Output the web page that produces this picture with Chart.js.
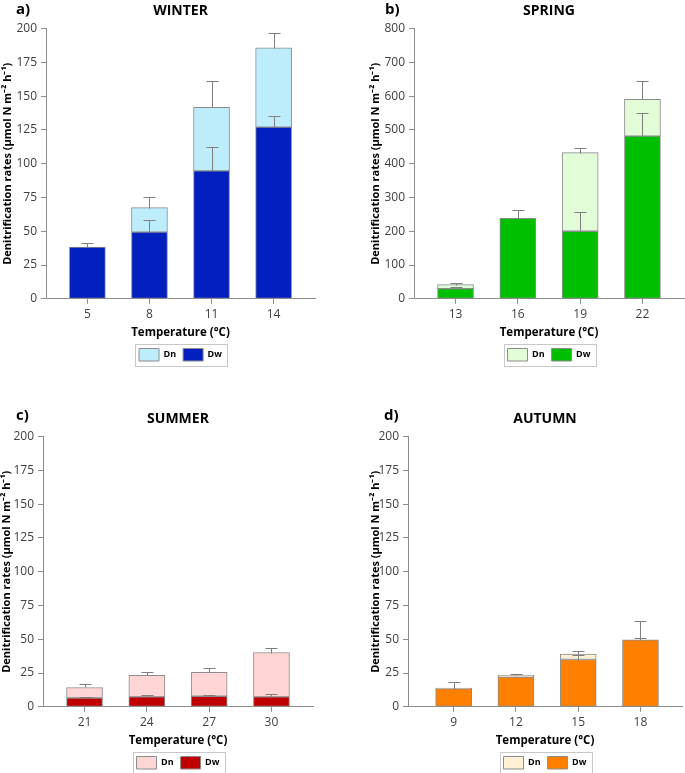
<!DOCTYPE html>
<html>
<head>
<meta charset="utf-8">
<script src="https://cdn.jsdelivr.net/npm/chart.js@4.4.1/dist/chart.umd.min.js"></script>
<style>
  body { margin: 0; background: #fff; }
  #wrap { position: relative; width: 685px; height: 773px; overflow: hidden; }
  .panel { position: absolute; }
  .tag { position: absolute; font: bold 15px 'Open Sans', sans-serif; color: #000; }
</style>
</head>
<body>
<div id="wrap">
  <div class="panel" style="left:0;top:0"><canvas id="winter" width="342" height="371"></canvas></div>
  <div class="panel" style="left:342px;top:0"><canvas id="spring" width="343" height="371"></canvas></div>
  <div class="panel" style="left:0;top:408px"><canvas id="summer" width="342" height="371"></canvas></div>
  <div class="panel" style="left:342px;top:408px"><canvas id="autumn" width="343" height="371"></canvas></div>
  <div class="tag" style="left:16px;top:-2px">a)</div>
  <div class="tag" style="left:385px;top:-2px">b)</div>
  <div class="tag" style="left:16px;top:404px">c)</div>
  <div class="tag" style="left:384px;top:404px">d)</div>
</div>
<script>
// temperatures (°C) and rates (µmol N m-2 h-1)
const winterTemp = [5, 8, 11, 14];
const winterDw = [38.3, 49.4, 94.7, 127.1];
const winterDwErr = [3.2, 8.7, 17.5, 7.9];
const winterDn = [0, 18.1, 47.0, 58.8];
const winterDnErr = [null, 7.9, 19.5, 10.6];

const springTemp = [13, 16, 19, 22];
const springDw = [30, 238, 200, 482];
const springDwErr = [3.5, 24, 58, 69];
const springDn = [12, 0, 233, 109];
const springDnErr = [6, null, 15, 53];

const summerTemp = [21, 24, 27, 30];
const summerDw = [6.5, 7.3, 7.8, 7.3];
const summerDwErr = [1.0, 1.5, 0.8, 2.2];
const summerDn = [7.8, 16.0, 17.7, 32.9];
const summerDnErr = [2.5, 2.5, 3.5, 3.5];

const autumnTemp = [9, 12, 15, 18];
const autumnDw = [13.5, 22, 35, 49.5];
const autumnDwErr = [5.2, null, 3.5, 1.1];
const autumnDn = [0.3, 1.5, 4, 0];
const autumnDnErr = [null, 0.5, 2, 14.3];

Chart.defaults.font.family = "'Open Sans', sans-serif";
const grey = '#8c8c8c';

// error bars drawn from the top of each stacked segment
const errorBars = {
    id: 'errorBars',
    afterDatasetsDraw(chart) {
        const ctx = chart.ctx;
        const yScale = chart.scales.y;
        ctx.save();
        ctx.strokeStyle = '#7f7f7f';
        ctx.lineWidth = 1;
        chart.data.datasets.forEach((ds, i) => {
            const meta = chart.getDatasetMeta(i);
            meta.data.forEach((bar, j) => {
                const err = ds.errors[j];
                if (err == null) return;
                let top = 0;
                for (let k = 0; k <= i; k++) top += chart.data.datasets[k].data[j];
                const y0 = Math.round(yScale.getPixelForValue(top)) + 0.5;
                const y1 = Math.round(yScale.getPixelForValue(top + err)) + 0.5;
                const x = Math.round(bar.x) + 0.5;
                ctx.beginPath();
                ctx.moveTo(x, y0);
                ctx.lineTo(x, y1);
                ctx.moveTo(x - 6, y1);
                ctx.lineTo(x + 6, y1);
                ctx.stroke();
            });
        });
        ctx.restore();
    }
};

// thin frame round the legend
const legendFrame = {
    id: 'legendFrame',
    afterDraw(chart) {
        const boxes = chart.legend.legendHitBoxes;
        if (!boxes || !boxes.length) return;
        const l = Math.min(...boxes.map(b => b.left)) - 4;
        const r = Math.max(...boxes.map(b => b.left + b.width)) + 5;
        const t = Math.min(...boxes.map(b => b.top)) - 5;
        const btm = Math.max(...boxes.map(b => b.top + b.height)) + 4;
        const ctx = chart.ctx;
        ctx.save();
        ctx.strokeStyle = '#c8c8c8';
        ctx.lineWidth = 1;
        ctx.strokeRect(Math.round(l) + 0.5, Math.round(t) + 0.5, Math.round(r - l), Math.round(btm - t));
        ctx.restore();
    }
};

function makePanel(id, title, temps, dw, dwErr, dn, dnErr, dwColor, dnColor, yMax, yStep, xMin, xMax, yWidth, yTitlePad, padRight) {
    new Chart(document.getElementById(id), {
        type: 'bar',
        data: {
            labels: temps,
            datasets: [
                {
                    label: 'Dw',
                    data: dw,
                    errors: dwErr,
                    backgroundColor: dwColor,
                    borderColor: grey,
                    borderWidth: 1,
                    borderSkipped: false
                },
                {
                    label: 'Dn',
                    data: dn,
                    errors: dnErr,
                    backgroundColor: dnColor,
                    borderColor: grey,
                    borderWidth: 1,
                    borderSkipped: false
                }
            ]
        },
        options: {
            responsive: false,
            animation: false,
            barThickness: 36,
            layout: { padding: { left: 0, right: padRight, top: 0, bottom: 0 } },
            plugins: {
                title: {
                    display: true,
                    text: title,
                    fullSize: false,
                    color: '#000',
                    font: { size: 14, weight: 'bold' },
                    padding: { top: 2.6, bottom: 9.3 }
                },
                legend: {
                    position: 'bottom',
                    fullSize: false,
                    reverse: true,
                    labels: {
                        boxWidth: 20,
                        boxHeight: 12.5,
                        padding: 7,
                        color: '#000',
                        font: { size: 9, weight: 'bold' }
                    }
                },
                tooltip: { enabled: false }
            },
            scales: {
                x: {
                    type: 'linear',
                    stacked: true,
                    min: xMin,
                    max: xMax,
                    offset: false,
                    afterBuildTicks: axis => {
                        axis.ticks = temps.map(v => ({ value: v }));
                    },
                    ticks: { color: '#404040', font: { size: 12 }, padding: 4 },
                    grid: { drawOnChartArea: false, offset: false, tickLength: 5, color: grey },
                    border: { color: grey },
                    title: {
                        display: true,
                        text: 'Temperature (°C)',
                        color: '#000',
                        font: { size: 11.5, weight: 'bold' },
                        padding: { top: 0, bottom: 1.5 }
                    }
                },
                y: {
                    stacked: true,
                    min: 0,
                    max: yMax,
                    afterFit: scale => { scale.width = yWidth; },
                    ticks: { stepSize: yStep, color: '#404040', font: { size: 12 }, padding: 4 },
                    grid: { drawOnChartArea: false, tickLength: 5, color: grey },
                    border: { color: grey },
                    title: {
                        display: true,
                        text: 'Denitrification rates (µmol N m⁻² h⁻¹)',
                        color: '#000',
                        font: { size: 11, weight: 'bold' },
                        padding: { top: yTitlePad, bottom: 0 }
                    }
                }
            }
        },
        plugins: [errorBars, legendFrame]
    });
}

makePanel('winter', 'WINTER', winterTemp, winterDw, winterDwErr, winterDn, winterDnErr,
    '#011fbf', '#bdedfb', 200, 25, 3, 16, 46, 1.5, 27);
makePanel('spring', 'SPRING', springTemp, springDw, springDwErr, springDn, springDnErr,
    '#00bf00', '#e2fcd8', 800, 100, 11, 24, 72, 27, 1);
makePanel('summer', 'SUMMER', summerTemp, summerDw, summerDwErr, summerDn, summerDnErr,
    '#c00000', '#ffd5d5', 200, 25, 19, 32, 43, 0, 29);
makePanel('autumn', 'AUTUMN', autumnTemp, autumnDw, autumnDwErr, autumnDn, autumnDnErr,
    '#ff8000', '#fff0d6', 200, 25, 6.8, 20, 66, 27, 3);
</script>
</body>
</html>
